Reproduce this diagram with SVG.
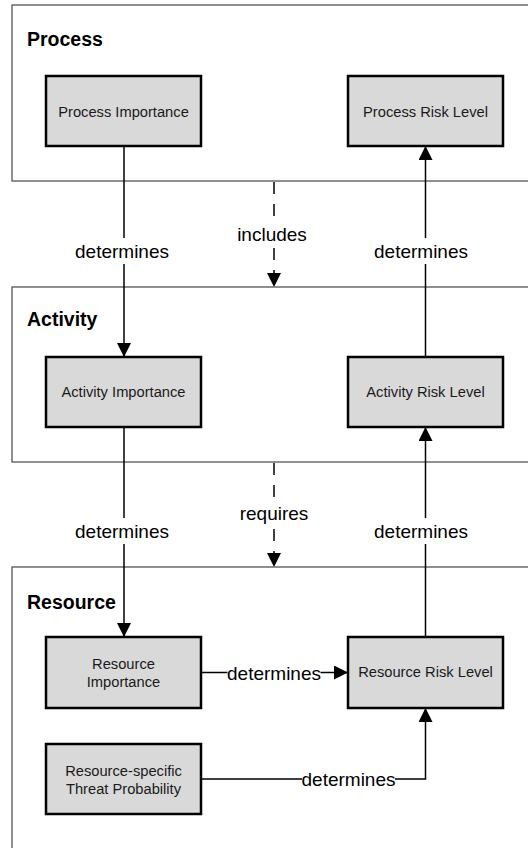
<svg xmlns="http://www.w3.org/2000/svg" width="528" height="848" viewBox="0 0 528 848">
  <style>
    .container { fill: #ffffff; stroke: #555555; stroke-width: 1.3; }
    .title { font-family: "Liberation Sans", Arial, sans-serif; font-weight: bold; font-size: 19.5px; fill: #000; }
    .box { fill: #d9d9d9; stroke: #000; stroke-width: 2.5; }
    .btext { font-family: "Liberation Sans", Arial, sans-serif; font-size: 14.7px; fill: #1a1a1a; text-anchor: middle; }
    .conn { fill: none; stroke: #000; stroke-width: 1.5; }
    .dash { stroke-dasharray: 12 10; }
    .lbl { font-family: "Liberation Sans", Arial, sans-serif; font-size: 19px; fill: #000; text-anchor: middle; }
    .lbg { fill: #ffffff; stroke: none; }
  </style>
  <defs>
    <marker id="arrow" viewBox="0 0 14 14" refX="14" refY="7" markerWidth="14" markerHeight="14" markerUnits="userSpaceOnUse" orient="auto">
      <path d="M0,0 L14,7 L0,14 z" fill="#000"/>
    </marker>
  </defs>

  <g id="process-container">
    <rect class="container" x="12" y="5" width="530" height="176"/>
    <text class="title" x="27" y="46">Process</text>
  </g>
  <g id="activity-container">
    <rect class="container" x="12" y="287" width="530" height="175"/>
    <text class="title" x="27" y="326">Activity</text>
  </g>
  <g id="resource-container">
    <rect class="container" x="12" y="567" width="530" height="300"/>
    <text class="title" x="27" y="609">Resource</text>
  </g>

  <g id="process-importance">
    <rect class="box" x="46" y="76" width="155" height="70"/>
    <text class="btext" x="123.5" y="116.5">Process Importance</text>
  </g>
  <g id="process-risk-level">
    <rect class="box" x="348" y="76" width="155" height="70"/>
    <text class="btext" x="425.5" y="116.5">Process Risk Level</text>
  </g>
  <g id="activity-importance">
    <rect class="box" x="46" y="357" width="155" height="70"/>
    <text class="btext" x="123.5" y="397">Activity Importance</text>
  </g>
  <g id="activity-risk-level">
    <rect class="box" x="348" y="357" width="155" height="70"/>
    <text class="btext" x="425.5" y="397">Activity Risk Level</text>
  </g>
  <g id="resource-importance">
    <rect class="box" x="46" y="637" width="155" height="71"/>
    <text class="btext" x="123.5" y="669">Resource</text>
    <text class="btext" x="123.5" y="687">Importance</text>
  </g>
  <g id="resource-risk-level">
    <rect class="box" x="348" y="637" width="155" height="71"/>
    <text class="btext" x="425.5" y="677">Resource Risk Level</text>
  </g>
  <g id="resource-threat-probability">
    <rect class="box" x="46" y="744" width="155" height="70"/>
    <text class="btext" x="123.5" y="776">Resource-specific</text>
    <text class="btext" x="123.5" y="794">Threat Probability</text>
  </g>

  <g id="connectors">
    <!-- Process Importance -> Activity Importance -->
    <line class="conn" x1="124" y1="146" x2="124" y2="357" marker-end="url(#arrow)"/>
    <rect class="lbg" x="74" y="238" width="98" height="26"/>
    <text class="lbl" x="122" y="257.5">determines</text>
    <!-- Activity Risk -> Process Risk -->
    <line class="conn" x1="425.5" y1="357" x2="425.5" y2="146" marker-end="url(#arrow)"/>
    <rect class="lbg" x="372" y="238" width="98" height="26"/>
    <text class="lbl" x="421" y="257.5">determines</text>
    <!-- includes -->
    <line class="conn dash" x1="274" y1="182" x2="274" y2="287" marker-end="url(#arrow)"/>
    <rect class="lbg" x="234" y="220" width="76" height="26"/>
    <text class="lbl" x="272" y="240.5">includes</text>
    <!-- Activity Importance -> Resource Importance -->
    <line class="conn" x1="124" y1="427" x2="124" y2="637" marker-end="url(#arrow)"/>
    <rect class="lbg" x="74" y="518" width="98" height="26"/>
    <text class="lbl" x="122" y="537.5">determines</text>
    <!-- Resource Risk -> Activity Risk -->
    <line class="conn" x1="425.5" y1="637" x2="425.5" y2="427" marker-end="url(#arrow)"/>
    <rect class="lbg" x="372" y="518" width="98" height="26"/>
    <text class="lbl" x="421" y="537.5">determines</text>
    <!-- requires -->
    <line class="conn dash" x1="274" y1="463" x2="274" y2="567" marker-end="url(#arrow)"/>
    <rect class="lbg" x="236" y="500" width="76" height="26"/>
    <text class="lbl" x="274" y="520">requires</text>
    <!-- Resource Importance -> Resource Risk -->
    <line class="conn" x1="201" y1="672.5" x2="348" y2="672.5" marker-end="url(#arrow)"/>
    <rect class="lbg" x="227.5" y="660" width="93" height="26"/>
    <text class="lbl" x="274" y="679.5">determines</text>
    <!-- Threat Probability -> Resource Risk -->
    <polyline class="conn" points="201,779 425.5,779 425.5,708" marker-end="url(#arrow)"/>
    <rect class="lbg" x="302" y="766" width="93" height="26"/>
    <text class="lbl" x="348.5" y="786">determines</text>
  </g>
</svg>
